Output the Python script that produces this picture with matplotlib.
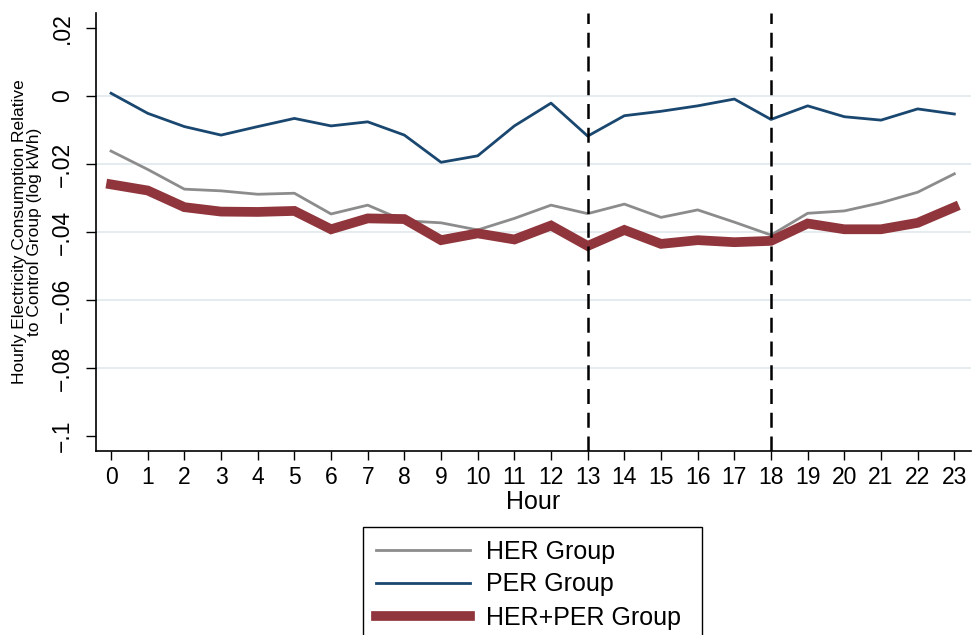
import matplotlib.pyplot as plt
import matplotlib.ticker as mticker
import numpy as np

hours = list(range(24))

her = [-0.0162, -0.0216, -0.0274, -0.0279, -0.0289, -0.0286, -0.0347, -0.0321,
       -0.0367, -0.0373, -0.0394, -0.0360, -0.0321, -0.0346, -0.0318, -0.0357,
       -0.0335, -0.0371, -0.0409, -0.0345, -0.0338, -0.0314, -0.0283, -0.0229]
per = [0.0008, -0.0051, -0.0090, -0.0115, -0.0090, -0.0066, -0.0088, -0.0076,
       -0.0115, -0.0195, -0.0176, -0.0088, -0.0021, -0.0118, -0.0058, -0.0045,
       -0.0029, -0.0009, -0.0069, -0.0029, -0.0061, -0.0071, -0.0038, -0.0053]
her_per = [-0.0260, -0.0278, -0.0327, -0.0340, -0.0341, -0.0338, -0.0392, -0.0360,
           -0.0362, -0.0424, -0.0404, -0.0422, -0.0381, -0.0441, -0.0394, -0.0435,
           -0.0424, -0.0430, -0.0426, -0.0375, -0.0392, -0.0392, -0.0373, -0.0327]
peak_hours = [13, 18]
yticks = [0.02, 0, -0.02, -0.04, -0.06, -0.08, -0.1]

plt.rcParams['font.family'] = ['Liberation Sans', 'DejaVu Sans']

fig = plt.figure(figsize=(9.72, 6.35), dpi=100)
ax = fig.add_axes([0.0988, 0.2898, 0.9, 0.6897])

# light gridlines inside the plot range only
for y in yticks[1:-1]:
    ax.axhline(y, color='#e3ebef', linewidth=1.3, zorder=0)

ax.plot(hours, her, color='#8c8c8c', linewidth=2.0, label='HER Group', zorder=3)
ax.plot(hours, per, color='#1a476f', linewidth=2.0, label='PER Group', zorder=3)
ax.plot(hours, her_per, color='#90353b', linewidth=7.0, label='HER+PER Group',
        zorder=4, solid_joinstyle='miter')

for h in peak_hours:
    ax.axvline(h, color='black', linewidth=1.8, dashes=(6, 3.5), zorder=5)

ax.set_xlim(-0.41, 23.45)
ax.set_ylim(-0.1044, 0.0244)
ax.set_xticks(hours)
ax.set_yticks(yticks)


def fmt(v, pos):
    if abs(v) < 1e-9:
        return '0'
    s = ('%g' % abs(v)).lstrip('0')
    return ('\u2212' if v < 0 else '') + s


ax.yaxis.set_major_formatter(mticker.FuncFormatter(fmt))
ax.tick_params(axis='y', labelsize=16.5, length=7, width=1.0, pad=9, labelrotation=90)
for lab in ax.get_yticklabels():
    lab.set_verticalalignment('center')
ax.tick_params(axis='x', labelsize=16.5, length=6.5, width=1.0, pad=4)

ax.spines['top'].set_visible(False)
ax.spines['right'].set_visible(False)
ax.spines['left'].set_linewidth(1.2)
ax.spines['bottom'].set_linewidth(1.2)

ax.set_xlabel('Hour', fontsize=18, labelpad=1)
ax.set_ylabel('Hourly Electricity Consumption Relative\nto Control Group (log kWh)',
              fontsize=12.5, labelpad=6, linespacing=1.0)

fig.legend(loc='upper left', bbox_to_anchor=(0.3735, 0.0, 0.3488, 1 - 527 / 635),
           mode='expand', ncol=1, fontsize=18, handlelength=3.76,
           handletextpad=0.64, labelspacing=0.36, borderpad=0.5,
           borderaxespad=0, frameon=True, fancybox=False,
           edgecolor='black', framealpha=1)
fig.legends[0].get_frame().set_linewidth(1.0)

fig.savefig('out.png', dpi=100)
